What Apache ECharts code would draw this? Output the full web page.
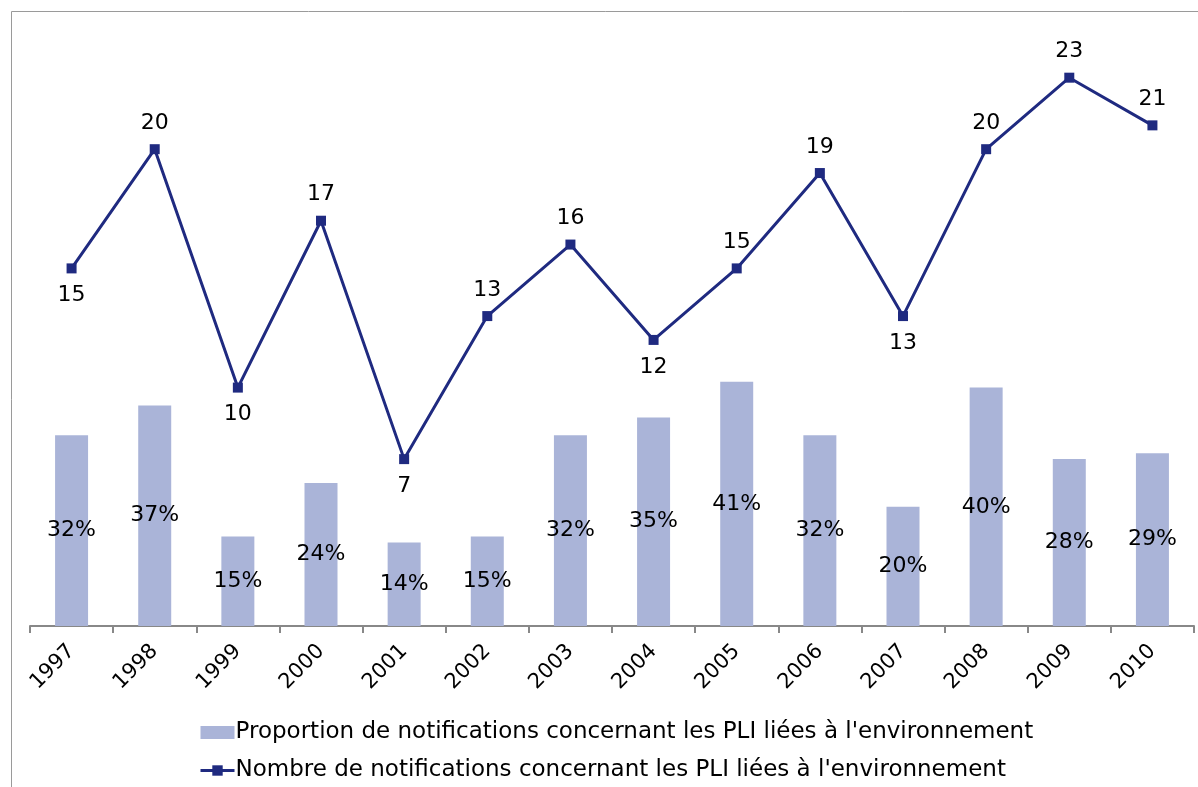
<!DOCTYPE html>
<html>
<head>
<meta charset="utf-8">
<script src="https://cdn.jsdelivr.net/npm/echarts@6/dist/echarts.min.js"></script>
<style>
  html, body { margin: 0; padding: 0; background: #fff; }
  #chart { width: 1198px; height: 787px; }
</style>
</head>
<body>
<div id="chart"></div>
<script>
// data
var years = ['1997', '1998', '1999', '2000', '2001', '2002', '2003', '2004', '2005', '2006', '2007', '2008', '2009', '2010'];
var proportion = [32, 37, 15, 24, 14, 15, 32, 35, 41, 32, 20, 40, 28, 29];
var counts = [15, 20, 10, 17, 7, 13, 16, 12, 15, 19, 13, 20, 23, 21];

var barName = "Proportion de notifications concernant les PLI liées à l'environnement";
var lineName = "Nombre de notifications concernant les PLI liées à l'environnement";

var FONT = 'DejaVu Sans';

// label under the point when it is a dip (lower than next, and lower than previous if any)
var lineData = counts.map(function (v, i) {
    var prev = i > 0 ? counts[i - 1] : null;
    var next = i < counts.length - 1 ? counts[i + 1] : null;
    var below = next !== null && v < next && (prev === null || v < prev);
    return {
        value: v,
        label: { position: below ? 'bottom' : 'top', distance: below ? 11 : 10 }
    };
});

var chart = echarts.init(document.getElementById('chart'));

chart.setOption({
    animation: false,
    backgroundColor: '#fff',
    textStyle: { fontFamily: FONT },
    graphic: [{
        type: 'rect',
        silent: true,
        shape: { x: 11.5, y: 11.5, width: 1400, height: 1000 },
        style: { fill: 'none', stroke: '#9a9a9a', lineWidth: 1 }
    }],
    grid: { left: 30, right: 4, top: 30, bottom: 161, containLabel: false },
    legend: {
        orient: 'vertical',
        left: 194,
        top: 716,
        itemWidth: 34,
        itemHeight: 13,
        itemGap: 15,
        lineStyle: { width: 3 },
        textStyle: { fontFamily: FONT, fontSize: 23, color: '#000', padding: [0, 0, 0, -4] },
        data: [{ name: barName, icon: 'rect' }, lineName]
    },
    xAxis: {
        type: 'category',
        data: years,
        boundaryGap: true,
        axisLine: { lineStyle: { color: '#888', width: 2 } },
        axisTick: { show: true, length: 7, lineStyle: { color: '#888', width: 2 } },
        axisLabel: { rotate: 45, margin: 22, fontSize: 21, color: '#000', fontFamily: FONT },
        splitLine: { show: false }
    },
    yAxis: [{
        type: 'value', min: 0, max: 100, show: false, splitLine: { show: false }
    }, {
        type: 'value', min: 0, max: 25, show: false, splitLine: { show: false }
    }],
    series: [{
        name: barName,
        type: 'bar',
        yAxisIndex: 0,
        data: proportion,
        barWidth: 33,
        itemStyle: { color: '#aab4d8' },
        label: {
            show: true,
            position: 'inside',
            formatter: '{c}%',
            fontFamily: FONT,
            fontSize: 22,
            color: '#000'
        }
    }, {
        name: lineName,
        type: 'line',
        yAxisIndex: 1,
        data: lineData,
        symbol: 'rect',
        symbolSize: 10,
        lineStyle: { color: '#1f2a80', width: 3 },
        itemStyle: { color: '#1f2a80' },
        label: {
            show: true,
            fontFamily: FONT,
            fontSize: 22,
            color: '#000'
        }
    }]
});
</script>
</body>
</html>
